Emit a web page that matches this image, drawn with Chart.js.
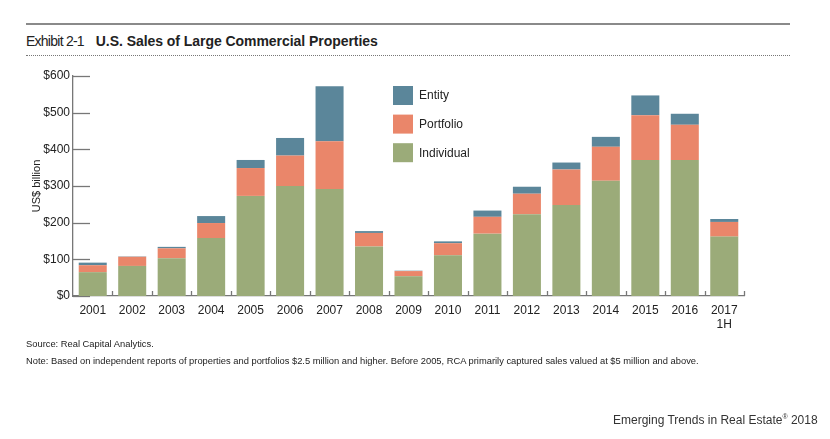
<!DOCTYPE html>
<html>
<head>
<meta charset="utf-8">
<script src="https://cdn.jsdelivr.net/npm/chart.js@4"></script>
<style>
  html, body { margin: 0; padding: 0; background: #fff; }
  body { width: 830px; height: 439px; position: relative; overflow: hidden; font-family: "Liberation Sans", Arial, sans-serif; color: #222; }
  #wrap { position: absolute; left: 0; top: 0; width: 830px; height: 439px; }
  .rule { position: absolute; left: 26px; width: 764px; }
  #topRule { top: 23px; height: 0; border-top: 2px solid #8a8a8a; }
  #dotRule { top: 55px; height: 0; border-top: 1px dotted #777; }
  #title { position: absolute; left: 26px; top: 33px; font-size: 14px; white-space: nowrap; color: #222; }
  #title span { letter-spacing: -0.75px; }
  #title b { margin-left: 8px; letter-spacing: -0.05px; }
  .foot { position: absolute; left: 26px; font-size: 9.35px; white-space: nowrap; color: #222; }
  #brand { position: absolute; left: 613px; top: 413px; font-size: 12px; color: #333; white-space: nowrap; }
  #brand sup { font-size: 7px; vertical-align: 5px; }
</style>
</head>
<body>
<div id="topRule" class="rule"></div>
<div id="title"><span>Exhibit 2-1</span> <b>U.S. Sales of Large Commercial Properties</b></div>
<div id="dotRule" class="rule"></div>
<div id="wrap"><canvas id="c"></canvas></div>
<div class="foot" style="top:339px">Source: Real Capital Analytics.</div>
<div class="foot" style="top:356px">Note: Based on independent reports of properties and portfolios $2.5 million and higher. Before 2005, RCA primarily captured sales valued at $5 million and above.</div>
<div id="brand">Emerging Trends in Real Estate<sup>®</sup> 2018</div>
<script>
const categories = ['2001','2002','2003','2004','2005','2006','2007','2008','2009','2010','2011','2012','2013','2014','2015','2016',['2017','1H']];
const individual = [65, 82, 103, 158, 273, 300, 292, 135, 54, 111, 170, 223, 248, 314, 371, 371, 162];
const portfolio  = [19, 25, 27, 41, 76, 83, 130, 37, 14, 33, 46, 56, 97, 93, 122, 96, 40];
const entity     = [7, 1, 4, 19, 22, 48, 150, 5, 1, 5, 17, 19, 19, 27, 54, 30, 8];
const yTicks = [0, 100, 200, 300, 400, 500, 600];

const COL_IND = '#9bab79';
const COL_POR = '#ea866a';
const COL_ENT = '#5b869a';
const AXIS_COL = '#777';

const axisTicksPlugin = {
  id: 'axisTicks',
  beforeDatasetsDraw(chart) {
    const ctx = chart.ctx, x = chart.scales.x, y = chart.scales.y;
    const a = chart.chartArea;
    ctx.save();
    ctx.strokeStyle = AXIS_COL;
    ctx.lineWidth = 1.3;
    yTicks.forEach(v => {
      const py = Math.round(y.getPixelForValue(v)) + 0.5;
      ctx.beginPath(); ctx.moveTo(a.left, py); ctx.lineTo(a.left + 17, py); ctx.stroke();
    });
    for (let i = 0; i < categories.length; i++) {
      const px = i < categories.length - 1
        ? (x.getPixelForValue(i) + x.getPixelForValue(i + 1)) / 2
        : a.right;
      const rx = Math.round(px) + 0.5;
      ctx.beginPath(); ctx.moveTo(rx, a.bottom); ctx.lineTo(rx, a.bottom - 5); ctx.stroke();
    }
    ctx.restore();
  }
};

const legendPlugin = {
  id: 'customLegend',
  afterDraw(chart) {
    const ctx = chart.ctx;
    const items = chart.data.datasets.slice().reverse();
    ctx.save();
    ctx.font = '12px "Liberation Sans", Arial, sans-serif';
    ctx.textBaseline = 'middle';
    items.forEach((ds, i) => {
      const bx = 393, by = 86 + i * 28.6;
      ctx.fillStyle = ds.backgroundColor;
      ctx.fillRect(bx, by, 20, 19);
      ctx.fillStyle = '#222';
      ctx.fillText(ds.label, 419, by + 10);
    });
    ctx.restore();
  }
};

new Chart(document.getElementById('c'), {
  type: 'bar',
  data: {
    labels: categories,
    datasets: [
      { label: 'Individual', data: individual, backgroundColor: COL_IND },
      { label: 'Portfolio', data: portfolio, backgroundColor: COL_POR },
      { label: 'Entity', data: entity, backgroundColor: COL_ENT }
    ]
  },
  options: {
    responsive: true,
    maintainAspectRatio: false,
    animation: false,
    layout: { padding: { left: 0, right: 86, top: 76, bottom: 0 } },
    datasets: { bar: { barPercentage: 0.71, categoryPercentage: 1.0 } },
    plugins: { legend: { display: false }, tooltip: { enabled: false } },
    scales: {
      x: {
        stacked: true,
        grid: { display: false, drawTicks: false },
        border: { display: true, color: AXIS_COL, width: 1.3 },
        ticks: { color: '#222', font: { size: 12, family: '"Liberation Sans", Arial, sans-serif' }, padding: 7, maxRotation: 0, autoSkip: false },
        afterFit(s) { s.height = 143; }
      },
      y: {
        stacked: true,
        min: 0, max: 600,
        grid: { display: false, drawTicks: false },
        border: { display: true, color: AXIS_COL, width: 1.3 },
        ticks: {
          stepSize: 100, padding: 3, color: '#222',
          font: { size: 12, family: '"Liberation Sans", Arial, sans-serif' },
          callback: v => '$' + v
        },
        title: { display: true, text: 'US$ billion', color: '#222', font: { size: 11, family: '"Liberation Sans", Arial, sans-serif' }, padding: { top: 30, bottom: 0 } },
        afterFit(s) { s.width = 73; }
      }
    }
  },
  plugins: [axisTicksPlugin, legendPlugin]
});
</script>
</body>
</html>
